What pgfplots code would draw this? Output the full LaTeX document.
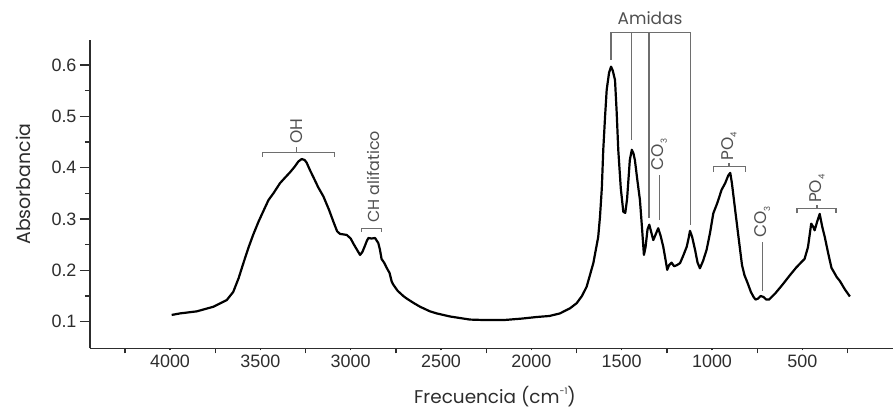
\documentclass[border=0pt]{standalone}
\usepackage{fontspec}
\setmainfont{Liberation Sans}
\newfontfamily\geo{Poppins}
\usepackage{pgfplots}
\pgfplotsset{compat=1.18}
\definecolor{txt}{RGB}{45,45,45}
\definecolor{ann}{RGB}{110,110,110}
\definecolor{anntxt}{RGB}{80,80,80}
\newcommand{\sub}[1]{\raisebox{-0.35ex}{\fontsize{8.5}{8.5}\selectfont #1}}
\begin{document}
\begin{tikzpicture}
\begin{axis}[
  at={(90bp,66.7bp)}, anchor=south west, scale only axis,
  width=802.7bp, height=308.3bp,
  xmin=0, xmax=4443, x dir=reverse, ymin=0.048, ymax=0.649,
  axis x line*=bottom, axis y line*=left,
  axis line style={line width=1.4bp, color=txt},
  xtick={500,1000,...,4000}, minor xtick={250,750,1250,1750,2250,2750,3250,3750,4250},
  ytick={0.1,0.2,0.3,0.4,0.5,0.6}, minor ytick={0.15,0.25,0.35,0.45,0.55,0.65},
  tick align=outside,
  major tick length=10bp, minor tick length=5bp,
  xtick style={/pgfplots/major tick length=2bp, /pgfplots/minor tick length=5bp, line width=1.3bp, color=txt},
  ytick style={line width=1.3bp, color=txt},
  minor tick style={line width=1.3bp, color=txt},
  /pgf/number format/assume math mode=true,
  xticklabel style={font=\fontsize{18}{18}\selectfont, color=txt, yshift=7bp, /pgf/number format/set thousands separator={}},
  yticklabel style={font=\fontsize{18}{18}\selectfont, color=txt, /pgf/number format/.cd, fixed, fixed zerofill, precision=1},
  clip=false,
]
\addplot[black, line width=2.2bp, line join=round] coordinates {
(3991,0.113) (3945,0.116) (3852,0.120) (3760,0.129) (3686,0.142) (3650,0.158) (3620,0.185)
(3594,0.214) (3565,0.245) (3539,0.270) (3510,0.295) (3484,0.315) (3455,0.337) (3428,0.350)
(3391,0.370) (3360,0.382) (3336,0.391) (3310,0.402) (3290,0.412) (3271,0.417) (3255,0.415)
(3244,0.410) (3225,0.395) (3207,0.382) (3180,0.362) (3151,0.344) (3120,0.318) (3096,0.295)
(3075,0.276) (3059,0.271) (3040,0.270) (3022,0.269) (3000,0.262) (2985,0.252) (2965,0.240)
(2948,0.230) (2935,0.236) (2921,0.248) (2910,0.258) (2902,0.263) (2885,0.262) (2865,0.263)
(2847,0.253) (2838,0.240) (2829,0.222) (2815,0.215) (2801,0.205) (2785,0.195) (2773,0.178)
(2764,0.172) (2740,0.160) (2709,0.150) (2690,0.145) (2650,0.136) (2616,0.129) (2561,0.120)
(2524,0.116) (2450,0.110) (2340,0.104) (2250,0.103) (2155,0.103) (2050,0.106) (1971,0.109)
(1900,0.111) (1842,0.116) (1786,0.126) (1749,0.136) (1720,0.150) (1694,0.168) (1657,0.214)
(1630,0.265) (1620,0.305) (1610,0.360) (1602,0.435) (1592,0.500) (1583,0.552) (1570,0.585)
(1559,0.597) (1550,0.590) (1537,0.571) (1528,0.510) (1519,0.435) (1505,0.360) (1491,0.314)
(1480,0.312) (1470,0.340) (1462,0.380) (1455,0.415) (1444,0.435) (1435,0.428) (1427,0.415)
(1413,0.375) (1399,0.337) (1388,0.285) (1377,0.230) (1368,0.245) (1357,0.280) (1347,0.289)
(1337,0.275) (1325,0.259) (1312,0.270) (1298,0.282) (1285,0.268) (1270,0.246) (1258,0.222)
(1248,0.201) (1238,0.210) (1224,0.215) (1210,0.208) (1195,0.210) (1177,0.214) (1160,0.228)
(1140,0.246) (1130,0.262) (1122,0.277) (1110,0.265) (1094,0.240) (1080,0.215) (1067,0.204)
(1050,0.218) (1030,0.240) (1010,0.275) (993,0.311) (970,0.332) (947,0.357) (927,0.370)
(910,0.385) (899,0.390) (890,0.370) (871,0.315) (850,0.255) (834,0.210) (820,0.190)
(806,0.178) (785,0.158) (770,0.148) (759,0.143) (745,0.145) (731,0.150) (715,0.148)
(700,0.143) (684,0.143) (650,0.155) (610,0.172) (570,0.190) (535,0.205) (500,0.218)
(488,0.222) (469,0.245) (451,0.291) (440,0.285) (432,0.278) (418,0.295) (404,0.310)
(390,0.285) (376,0.265) (355,0.230) (339,0.205) (310,0.187) (292,0.179) (265,0.163)
(237,0.149)
};
% annotations
\begin{scope}[ann, line width=1.2bp]
\draw (1559,0.610) -- (1559,0.664) -- (1118,0.664) -- (1118,0.288);
\draw (1445,0.664) -- (1445,0.454);
\draw (1349,0.664) -- (1349,0.302);
\draw (3489,0.421) -- (3489,0.430) -- (3091,0.430) -- (3091,0.421);
\draw (3300,0.430) -- (3300,0.440);
\draw (2939,0.275) -- (2939,0.282) -- (2829,0.282) -- (2829,0.275);
\draw (994,0.392) -- (994,0.402) -- (815,0.402) -- (815,0.392);
\draw (906,0.402) -- (906,0.409);
\draw (530,0.311) -- (530,0.320) -- (314,0.320) -- (314,0.311);
\draw (419,0.320) -- (419,0.327);
\draw (1292,0.298) -- (1292,0.386);
\draw (721,0.160) -- (721,0.255);
\end{scope}
\begin{scope}[every node/.style={inner sep=0pt, text=anntxt, font=\geo\fontsize{17}{17}\selectfont}]
\node[anchor=base] at (1343,0.679) {Amidas};
\node[rotate=90, anchor=west] at (3300,0.446) {OH};
\node[rotate=90, anchor=west, font=\geo\fontsize{16}{16}\selectfont] at (2876,0.292) {CH alifatico};
\node[rotate=90, anchor=west] at (906,0.414) {PO\sub{4}};
\node[rotate=90, anchor=west] at (419,0.331) {PO\sub{4}};
\node[rotate=90, anchor=west] at (1292,0.395) {CO\sub{3}};
\node[rotate=90, anchor=west] at (721,0.263) {CO\sub{3}};
\end{scope}
\end{axis}
\node[anchor=base, inner sep=0pt, text=txt, font=\geo\fontsize{18.5}{18.5}\selectfont] at (495bp,12bp) {Frecuencia (cm\raisebox{0.8ex}{\fontsize{9}{9}\selectfont -1})};
\node[anchor=base, rotate=90, inner sep=0pt, text=txt, font=\geo\fontsize{19}{19}\selectfont] at (30bp,231bp) {Absorbancia};
\pgfresetboundingbox
\useasboundingbox (0,0) rectangle (896bp,415bp);
\end{tikzpicture}
\end{document}
